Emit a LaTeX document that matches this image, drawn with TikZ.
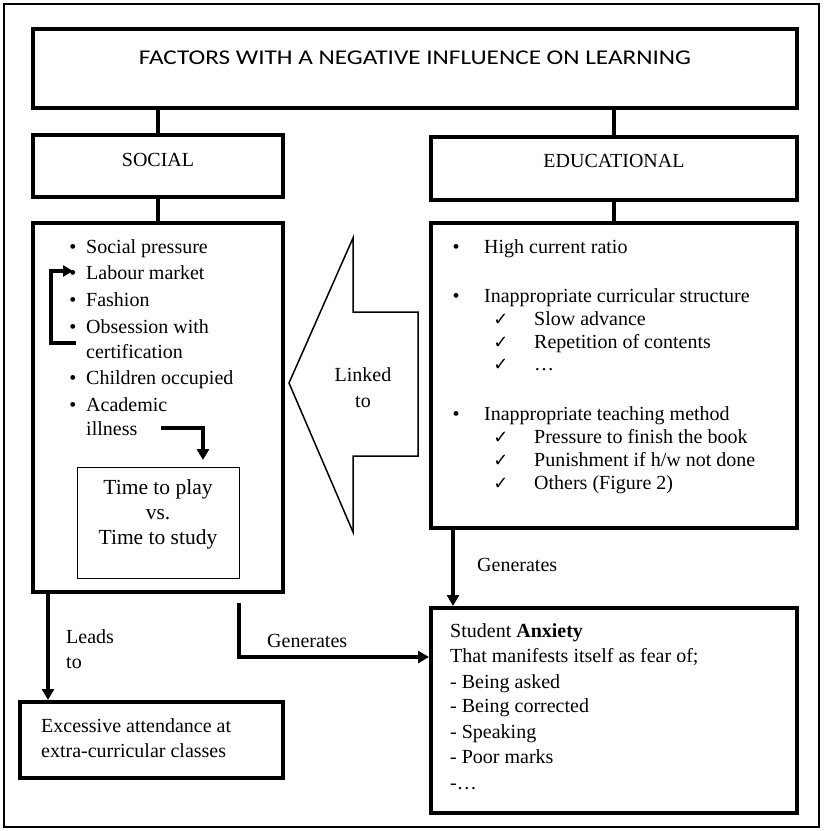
\documentclass[tikz,border=0pt]{standalone}
\usepackage{fontspec}
\usepackage{graphicx}
\setmainfont{Liberation Serif}
\newfontfamily\titlefont{Carlito}
\newfontfamily\symfont{DejaVu Sans}
\usetikzlibrary{arrows.meta,calc}
\begin{document}
\begin{tikzpicture}[x=1pt,y=-1pt,
  thickbox/.style={draw,line width=4pt,inner sep=0pt,rectangle},
  thinbox/.style={draw,line width=0.9pt,inner sep=0pt,rectangle},
  conn/.style={line width=3.5pt},
  arr/.style={line width=3.5pt,-{Triangle[width=12pt,length=11pt]}},
  txt/.style={anchor=base west,inner sep=0pt,font=\fontsize{20}{24}\selectfont},
  ctxt/.style={anchor=base,inner sep=0pt,font=\fontsize{20}{24}\selectfont},
  bul/.style={anchor=base,inner sep=0pt,font=\fontsize{20}{24}\selectfont},
  chk/.style={anchor=base,inner sep=0pt,font=\symfont\fontsize{18}{20}\selectfont}
]
\useasboundingbox (0,0) rectangle (823,831);
% outer frame
\draw[line width=1.8pt] (4,4) rectangle (819,827);

% title
\node[thickbox,minimum width=764pt,minimum height=79pt] (title) at (415,68.5) {};
\node[inner sep=0pt,font=\titlefont\fontsize{21}{24}\selectfont] (titletext) at (415,58) {\scalebox{1.2}[1]{FACTORS WITH A NEGATIVE INFLUENCE ON LEARNING}};

% category boxes
\node[thickbox,minimum width=250pt,minimum height=62pt] (social) at (158,166) {};
\node[inner sep=0pt,font=\fontsize{20}{24}\selectfont] (socialtext) at (158,160) {SOCIAL};
\node[thickbox,minimum width=366pt,minimum height=63pt] (edu) at (614,168.5) {};
\node[inner sep=0pt,font=\fontsize{20}{24}\selectfont] (edutext) at (614,161) {EDUCATIONAL};

% list boxes
\node[thickbox,minimum width=250pt,minimum height=369pt] (slist) at (158,407.5) {};
\node[thickbox,minimum width=366pt,minimum height=305pt] (elist) at (614,375.5) {};
\node[thinbox,minimum width=162pt,minimum height=111pt] (timebox) at (158,522.5) {};

% bottom boxes
\node[thickbox,minimum width=263pt,minimum height=76pt] (exc) at (151.5,740) {};
\node[thickbox,minimum width=366pt,minimum height=205pt] (anx) at (614,710.5) {};

% connectors top
\draw[conn] (title.south -| social.north) -- (social.north);
\draw[conn] (title.south -| edu.north) -- (edu.north);
\draw[conn] (social.south) -- (slist.north);
\draw[conn] (edu.south) -- (elist.north);

% social list
\node[bul] (b1) at (73,253) {\textbullet};
\node[txt] (s1) at (86,253) {Social pressure};
\node[bul] (b2) at (73,279) {\textbullet};
\node[txt] (s2) at (86,279) {Labour market};
\node[bul] (b3) at (73,306) {\textbullet};
\node[txt] (s3) at (86,306) {Fashion};
\node[bul] (b4) at (73,333) {\textbullet};
\node[txt] (s4) at (86,333) {Obsession with};
\node[txt] (s4b) at (86,358) {certification};
\node[bul] (b5) at (73,384) {\textbullet};
\node[txt] (s5) at (86,384) {Children occupied};
\node[bul] (b6) at (73,411) {\textbullet};
\node[txt] (s6) at (86,411) {Academic};
\node[txt] (s6b) at (86,435) {illness};

% bracket arrow obsession -> labour market
\coordinate (br1) at (76,343);
\coordinate (br2) at (51,343);
\coordinate (br3) at (51,271);
\coordinate (br4) at (73,271);
\draw[line width=3.5pt,-{Triangle[width=11pt,length=10pt]}] (br1) -- (br2) -- (br3) -- (br4);

% illness -> time box
\coordinate (il1) at (161,428);
\coordinate (il2) at (203,428);
\coordinate (il3) at (203,460);
\draw[line width=3.5pt,-{Triangle[width=12pt,length=11pt]}] (il1) -- (il2) -- (il3);

% time box text
\node[ctxt,font=\fontsize{21.5}{24}\selectfont] (t1) at (158,494) {Time to play};
\node[ctxt,font=\fontsize{21.5}{24}\selectfont] (t2) at (158,519) {vs.};
\node[ctxt,font=\fontsize{21.5}{24}\selectfont] (t3) at (158,544) {Time to study};

% big arrow
\draw[line width=1.5pt] (289,383) -- (353,238) -- (353,312) -- (418,312) -- (418,456) -- (353,456) -- (353,532) -- cycle;
\node[ctxt] (l1) at (363,381) {Linked};
\node[ctxt] (l2) at (363,407) {to};

% educational list
\node[bul] (eb1) at (456,253) {\textbullet};
\node[txt] (e1) at (484,253) {High current ratio};
\node[bul] (eb2) at (456,302) {\textbullet};
\node[txt] (e2) at (484,302) {Inappropriate curricular structure};
\node[chk] (c1) at (501,325) {✓};
\node[txt] (e21) at (534,325) {Slow advance};
\node[chk] (c2) at (501,348) {✓};
\node[txt] (e22) at (534,348) {Repetition of contents};
\node[chk] (c3) at (501,370) {✓};
\node[txt] (e23) at (534,370) {…};
\node[bul] (eb3) at (456,420) {\textbullet};
\node[txt] (e3) at (484,420) {Inappropriate teaching method};
\node[chk] (c4) at (501,443) {✓};
\node[txt] (e31) at (534,443) {Pressure to finish the book};
\node[chk] (c5) at (501,466) {✓};
\node[txt] (e32) at (534,466) {Punishment if h/w not done};
\node[chk] (c6) at (501,489) {✓};
\node[txt] (e33) at (534,489) {Others (Figure 2)};

% edu -> anxiety
\draw[arr] ($(elist.south west)+(24,0)$) -- ($(anx.north west)+(24,0)$);
\node[txt] (gen1) at (477,571) {Generates};

% leads to
\draw[arr] ($(slist.south west)+(17,0)$) -- ($(exc.north west)+(30,0)$);
\node[txt] (lead1) at (66,643) {Leads};
\node[txt] (lead2) at (66,668) {to};

% generates (social -> anxiety)
\coordinate (g2a) at (239,603);
\coordinate (g2b) at (239,657);
\draw[arr] (g2a) -- (g2b) -- (g2b -| anx.west);
\node[txt] (gen2) at (267,647) {Generates};

% excessive text
\node[txt] (x1) at (41,732) {Excessive attendance at};
\node[txt] (x2) at (41,757) {extra-curricular classes};

% anxiety text
\node[txt] (a1) at (450,637) {Student \textbf{Anxiety}};
\node[txt] (a2) at (450,662) {That manifests itself as fear of;};
\node[txt] (a3) at (450,688) {- Being asked};
\node[txt] (a4) at (450,712) {- Being corrected};
\node[txt] (a5) at (450,738) {- Speaking};
\node[txt] (a6) at (450,763) {- Poor marks};
\node[txt] (a7) at (450,789) {-…};
\end{tikzpicture}
\end{document}
